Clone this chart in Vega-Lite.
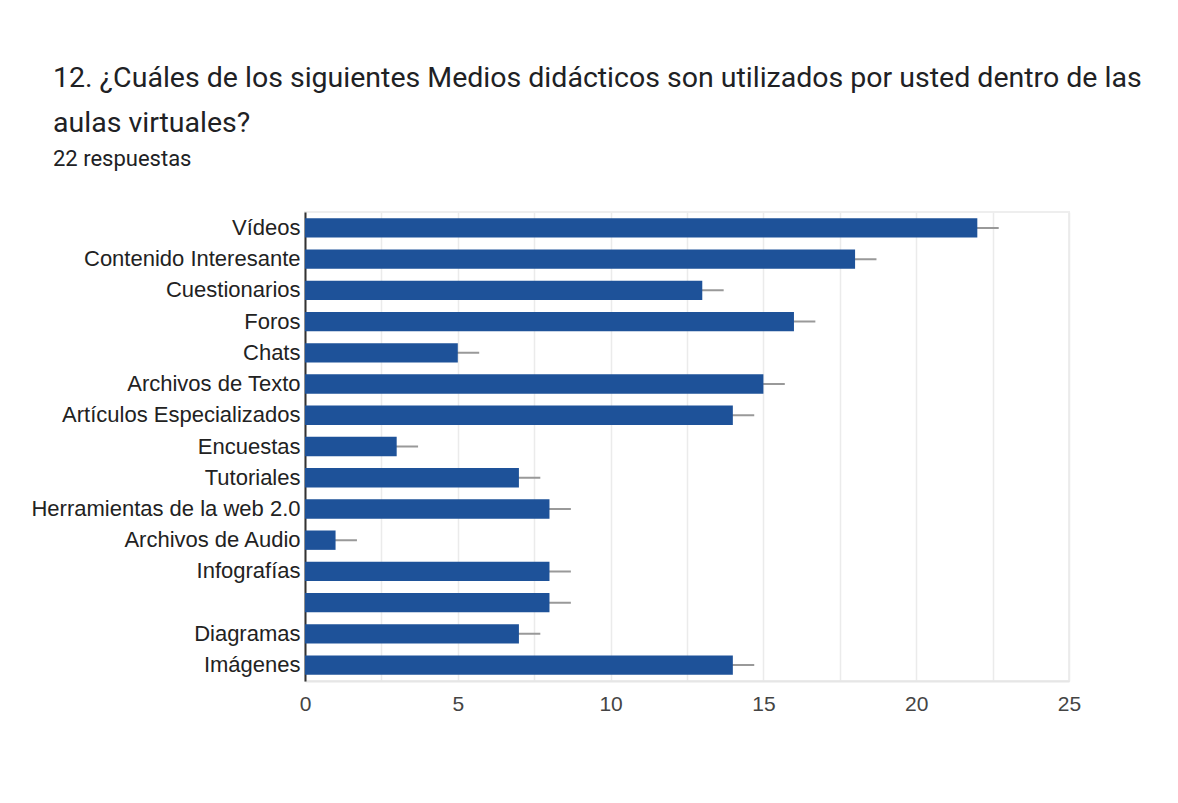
{
  "$schema": "https://vega.github.io/schema/vega-lite/v6.json",
  "autosize": "none",
  "width": 764,
  "height": 469,
  "padding": {"left": 305, "top": 212, "right": 109, "bottom": 122},
  "background": "white",
  "title": {
    "text": ["12. ¿Cuáles de los siguientes Medios didácticos son utilizados por usted dentro de las", "aulas virtuales?"],
    "subtitle": "22 respuestas",
    "anchor": "start",
    "frame": "group",
    "dx": -252,
    "offset": 42,
    "font": "Roboto",
    "fontSize": 28.5,
    "fontWeight": "normal",
    "color": "#202124",
    "lineHeight": 45,
    "subtitleFont": "Roboto",
    "subtitleFontSize": 22,
    "subtitleColor": "#202124",
    "subtitlePadding": 12
  },
  "data": {
    "values": [
      {"medio": "Vídeos", "n": 22, "lo": 21.3, "hi": 22.7},
      {"medio": "Contenido Interesante", "n": 18, "lo": 17.3, "hi": 18.7},
      {"medio": "Cuestionarios", "n": 13, "lo": 12.3, "hi": 13.7},
      {"medio": "Foros", "n": 16, "lo": 15.3, "hi": 16.7},
      {"medio": "Chats", "n": 5, "lo": 4.3, "hi": 5.7},
      {"medio": "Archivos de Texto", "n": 15, "lo": 14.3, "hi": 15.7},
      {"medio": "Artículos Especializados", "n": 14, "lo": 13.3, "hi": 14.7},
      {"medio": "Encuestas", "n": 3, "lo": 2.3, "hi": 3.7},
      {"medio": "Tutoriales", "n": 7, "lo": 6.3, "hi": 7.7},
      {"medio": "Herramientas de la web 2.0", "n": 8, "lo": 7.3, "hi": 8.7},
      {"medio": "Archivos de Audio", "n": 1, "lo": 0.3, "hi": 1.7},
      {"medio": "Infografías", "n": 8, "lo": 7.3, "hi": 8.7},
      {"medio": " ", "n": 8, "lo": 7.3, "hi": 8.7},
      {"medio": "Diagramas", "n": 7, "lo": 6.3, "hi": 7.7},
      {"medio": "Imágenes", "n": 14, "lo": 13.3, "hi": 14.7}
    ]
  },
  "encoding": {
    "y": {
      "field": "medio",
      "type": "nominal",
      "sort": null,
      "title": null,
      "scale": {"paddingInner": 0.38, "paddingOuter": 0.2},
      "axis": {
        "labelFont": "Liberation Sans",
        "labelFontSize": 22,
        "labelColor": "#222222",
        "labelPadding": 5,
        "ticks": false,
        "domainColor": "#333333",
        "domainWidth": 2,
        "labelLimit": 400
      }
    }
  },
  "layer": [
    {
      "mark": {"type": "rule", "color": "#999999", "strokeWidth": 2},
      "encoding": {
        "x": {"field": "lo", "type": "quantitative"},
        "x2": {"field": "hi"}
      }
    },
    {
      "mark": {"type": "bar", "color": "#1e5299"},
      "encoding": {
        "x": {
          "field": "n",
          "type": "quantitative",
          "title": null,
          "scale": {"domain": [0, 25], "nice": false},
          "axis": {
            "values": [0, 2.5, 5, 7.5, 10, 12.5, 15, 17.5, 20, 22.5, 25],
            "labelExpr": "datum.value % 5 === 0 ? datum.label : ''",
            "labelFont": "Liberation Sans",
            "labelFontSize": 21,
            "labelColor": "#444444",
            "labelPadding": 12,
            "labelFlush": false,
            "labelOverlap": false,
            "ticks": false,
            "grid": true,
            "gridColor": "#ebebeb",
            "gridWidth": 1.5,
            "domainColor": "#e6e6e6",
            "domainWidth": 2
          }
        }
      }
    }
  ],
  "config": {
    "view": {"stroke": "#eeeeee", "strokeWidth": 2}
  }
}
